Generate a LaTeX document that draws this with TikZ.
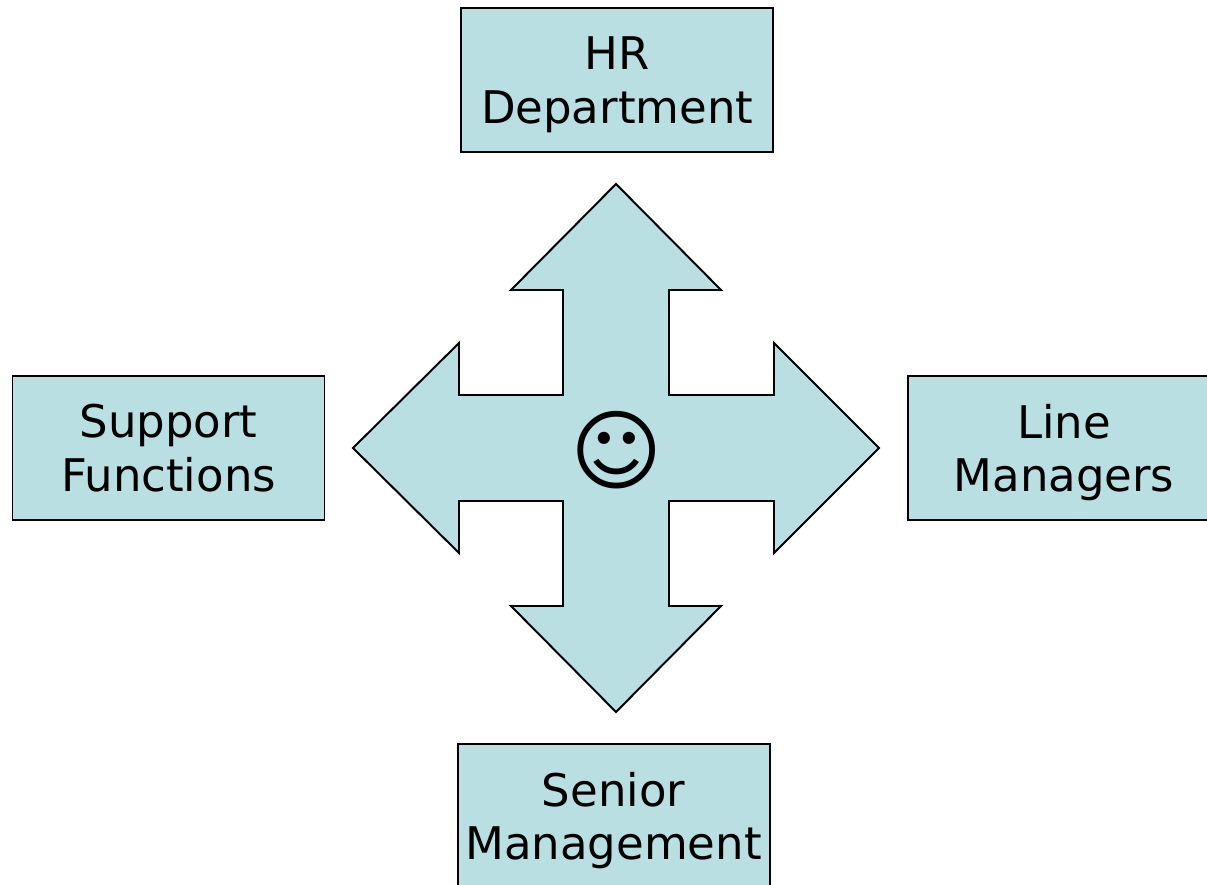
\documentclass[tikz,border=0pt]{standalone}
\usepackage{fontspec}
\setmainfont{DejaVu Sans}
\definecolor{boxfill}{RGB}{186,223,227}
\tikzset{
	partybox/.style = {draw, line width = 1.4pt, fill = boxfill, minimum width = 7.8cm, minimum height = 3.6cm, align = center, text depth = -4.2pt, font = \fontsize{32}{38}\selectfont}
}

\begin{document}
\begin{tikzpicture}
		\useasboundingbox (0, 0) rectangle (30.175, 22.1);
		\clip (0, 0) rectangle (30.175, 22.1);
		\draw[line width = 1.4pt, line join = miter, fill = boxfill] (15.4, 17.5) -- (18.025, 14.85) -- (16.725, 14.85) -- (16.725, 12.225) -- (19.35, 12.225) -- (19.35, 13.525) -- (21.975, 10.9) -- (19.35, 8.275) -- (19.35, 9.575) -- (16.725, 9.575) -- (16.725, 6.95) -- (18.025, 6.95) -- (15.4, 4.3) -- (12.775, 6.95) -- (14.075, 6.95) -- (14.075, 9.575) -- (11.475, 9.575) -- (11.475, 8.275) -- (8.825, 10.9) -- (11.475, 13.525) -- (11.475, 12.225) -- (14.075, 12.225) -- (14.075, 14.85) -- (12.775, 14.85) -- cycle;
		\node[font = \fontsize{63}{63}\selectfont] (smiley) at (15.42, 10.85) {☺};
		\node[partybox] (hr) at (15.43, 20.1) {HR\\Department};
		\node[partybox] (support) at (4.2125, 10.9) {Support\\Functions};
		\node[partybox] (line) at (26.6, 10.9) {Line\\Managers};
		\node[partybox] (senior) at (15.34, 1.7) {Senior\\Management};
	\end{tikzpicture}
\end{document}
